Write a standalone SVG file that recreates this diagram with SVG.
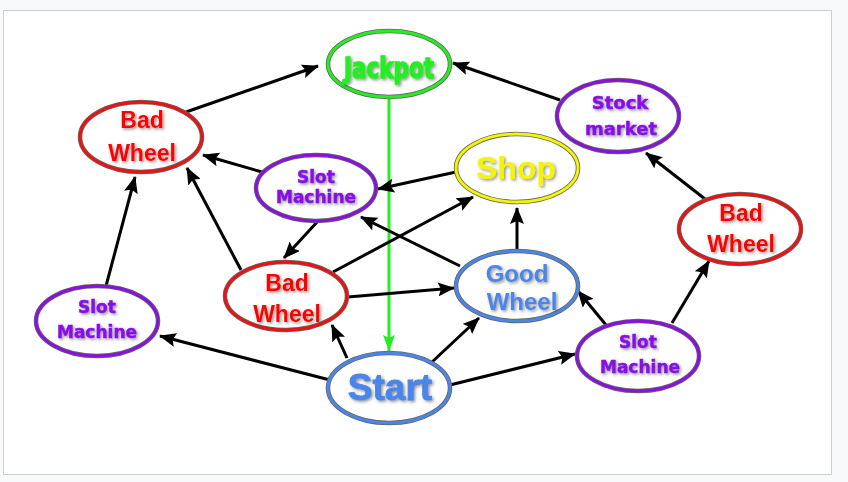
<svg xmlns="http://www.w3.org/2000/svg" width="848" height="482" viewBox="0 0 848 482">
<defs>
<marker id="ah" markerUnits="userSpaceOnUse" markerWidth="18" markerHeight="14" refX="16" refY="7" orient="auto"><path d="M0,0 L17,7 L0,14 L3,7 z" fill="#000"/></marker>
<marker id="ahg" markerUnits="userSpaceOnUse" markerWidth="18" markerHeight="14" refX="16" refY="7" orient="auto"><path d="M0,1 L16,7 L0,13 L3,7 z" fill="#22ee22"/></marker>
<filter id="sh" x="-20%" y="-30%" width="140%" height="160%"><feDropShadow dx="1.5" dy="1.5" stdDeviation="1.5" flood-color="#444" flood-opacity="0.6"/></filter>
</defs>
<style>
.ol{fill:#fff;stroke:#666;stroke-width:4.5}
.in{fill:none;stroke-width:2.8}
.red{stroke:#ee1111}.pur{stroke:#8a10e0}.blu{stroke:#4a86e8}.yel{stroke:#f5f500}.grn{stroke:#22ee22}
.t{font-family:"Liberation Sans",Arial,sans-serif;font-weight:bold;text-anchor:middle;filter:url(#sh)}
.tr{fill:#ff0000;font-size:23px}
.tp{font-family:"DejaVu Sans",sans-serif;fill:#8a10e6;font-size:17px;stroke:#8a10e6;stroke-width:0.5}
.tb{fill:#4a86e8}
.e{stroke:#000;stroke-width:3;fill:none;marker-end:url(#ah)}
</style>
<rect x="0" y="0" width="848" height="482" fill="#f8f9fb"/>
<rect x="3.5" y="10.5" width="828" height="464" fill="#fff" stroke="#cfcfcf"/>
<g id="connectors">
<line class="e" x1="186" y1="112" x2="318" y2="66"/>
<line class="e" x1="560" y1="100" x2="453" y2="63"/>
<line x1="389" y1="97" x2="389" y2="351" stroke="#22ee22" stroke-width="3" marker-end="url(#ahg)"/>
<line class="e" x1="262" y1="172" x2="203" y2="155"/>
<line class="e" x1="241" y1="270" x2="187" y2="168"/>
<line class="e" x1="106" y1="286" x2="135" y2="177"/>
<line class="e" x1="456" y1="172" x2="378" y2="189"/>
<line class="e" x1="318" y1="221" x2="284" y2="258"/>
<line class="e" x1="333" y1="272" x2="473" y2="197"/>
<line class="e" x1="460" y1="266" x2="361" y2="217"/>
<line class="e" x1="517" y1="251" x2="517" y2="208"/>
<line class="e" x1="348" y1="297" x2="454" y2="288"/>
<line class="e" x1="347" y1="358" x2="332" y2="325"/>
<line class="e" x1="330" y1="380" x2="160" y2="336"/>
<line class="e" x1="432" y1="362" x2="479" y2="318"/>
<line class="e" x1="450" y1="385" x2="575" y2="354"/>
<line class="e" x1="606" y1="325" x2="578" y2="291"/>
<line class="e" x1="672" y1="323" x2="709" y2="261"/>
<line class="e" x1="705" y1="199" x2="646" y2="153"/>
</g>
<g id="jackpot"><ellipse class="ol" cx="389" cy="64" rx="61" ry="33"/><ellipse class="in grn" cx="389" cy="64" rx="61" ry="33"/><text class="t" x="389" y="78" fill="#22ee22" stroke="#22ee22" stroke-width="1.4" style="font-family:'DejaVu Sans Condensed',sans-serif;font-size:29px" textLength="90" lengthAdjust="spacingAndGlyphs">Jackpot</text></g>
<g id="badwheel1"><ellipse class="ol" cx="141" cy="137" rx="61" ry="35"/><ellipse class="in red" cx="141" cy="137" rx="61" ry="35"/><text class="t tr" x="142" y="128">Bad</text><text class="t tr" x="142" y="161">Wheel</text></g>
<g id="slot1"><ellipse class="ol" cx="316" cy="188" rx="60" ry="33"/><ellipse class="in pur" cx="316" cy="188" rx="60" ry="33"/><text class="t tp" x="316" y="183">Slot</text><text class="t tp" x="316" y="203">Machine</text></g>
<g id="shop"><ellipse class="ol" cx="517" cy="168" rx="61" ry="34"/><ellipse class="in yel" cx="517" cy="168" rx="61" ry="34"/><text class="t" x="516" y="179" fill="#f5f500" style="font-size:32px">Shop</text></g>
<g id="stock"><ellipse class="ol" cx="618" cy="116" rx="61" ry="36"/><ellipse class="in pur" cx="618" cy="116" rx="61" ry="36"/><text class="t tp" x="620" y="109" style="font-size:18px">Stock</text><text class="t tp" x="621" y="135" style="font-size:18px">market</text></g>
<g id="badwheel2"><ellipse class="ol" cx="740" cy="229" rx="61" ry="35"/><ellipse class="in red" cx="740" cy="229" rx="61" ry="35"/><text class="t tr" x="741" y="221">Bad</text><text class="t tr" x="741" y="252">Wheel</text></g>
<g id="slot2"><ellipse class="ol" cx="97" cy="321" rx="61" ry="35"/><ellipse class="in pur" cx="97" cy="321" rx="61" ry="35"/><text class="t tp" x="97" y="313">Slot</text><text class="t tp" x="97" y="338">Machine</text></g>
<g id="badwheel3"><ellipse class="ol" cx="286" cy="296" rx="61" ry="34"/><ellipse class="in red" cx="286" cy="296" rx="61" ry="34"/><text class="t tr" x="287" y="291">Bad</text><text class="t tr" x="287" y="322">Wheel</text></g>
<g id="goodwheel"><ellipse class="ol" cx="517" cy="286" rx="61" ry="35"/><ellipse class="in blu" cx="517" cy="286" rx="61" ry="35"/><text class="t tb" x="517" y="282" style="font-size:24px">Good</text><text class="t tb" x="522" y="310" style="font-size:24px">Wheel</text></g>
<g id="slot3"><ellipse class="ol" cx="638" cy="356" rx="61" ry="35"/><ellipse class="in pur" cx="638" cy="356" rx="61" ry="35"/><text class="t tp" x="638" y="348">Slot</text><text class="t tp" x="640" y="373">Machine</text></g>
<g id="start"><ellipse class="ol" cx="389" cy="388" rx="61" ry="35"/><ellipse class="in blu" cx="389" cy="388" rx="61" ry="35"/><text class="t tb" x="390" y="400" stroke="#4a86e8" stroke-width="0.8" style="font-size:37px">Start</text></g>
</svg>
